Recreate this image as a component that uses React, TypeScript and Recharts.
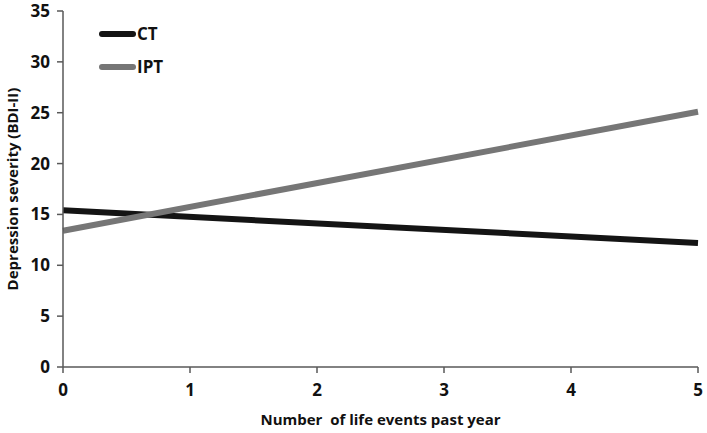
import { LineChart, Line, XAxis, YAxis, Label } from 'recharts';

const EVENTS = [0, 5];
const CT = [15.4, 12.2];
const IPT = [13.4, 25.1];
const Y_TICKS = [0, 5, 10, 15, 20, 25, 30, 35];
const X_TICKS = [0, 1, 2, 3, 4, 5];

const data = EVENTS.map((x, i) => ({ x, ct: CT[i], ipt: IPT[i] }));

const FONT = '"Open Sans", "Liberation Sans", sans-serif';
const AXIS = '#595959';

const series = [
  { name: 'CT', color: '#141414' },
  { name: 'IPT', color: '#767676' },
];

function LegendBox() {
  return (
    <div
      style={{
        position: 'absolute',
        left: 99,
        top: 17,
        fontFamily: FONT,
        fontWeight: 700,
        fontSize: 17,
        color: '#111',
      }}
    >
      {series.map(s => (
        <div key={s.name} style={{ display: 'flex', alignItems: 'center', height: 33 }}>
          <span style={{ width: 37, height: 6, background: s.color, borderRadius: 3 }} />
          <span style={{ marginLeft: 1 }}>{s.name}</span>
        </div>
      ))}
    </div>
  );
}

export default function App() {
  return (
    <div style={{ position: 'absolute', left: 0, top: 0, width: 707, height: 433, background: '#fff' }}>
      <LineChart width={707} height={433} data={data} margin={{ top: 11, right: 9, left: 13, bottom: 0 }}>
        <XAxis
          dataKey="x"
          type="number"
          domain={[0, 5]}
          ticks={X_TICKS}
          stroke={AXIS}
          strokeWidth={1.5}
          tickSize={6}
          height={66}
          tick={{ fill: '#111', fontSize: 17, fontWeight: 700, fontFamily: FONT, dy: 9 }}
        >
          <Label
            value={'Number\u00a0 of life events past year'}
            position="insideBottom"
            offset={8}
            style={{ fill: '#111', fontSize: 15, fontWeight: 700, fontFamily: FONT }}
          />
        </XAxis>
        <YAxis
          type="number"
          domain={[0, 35]}
          ticks={Y_TICKS}
          stroke={AXIS}
          strokeWidth={1.5}
          tickSize={6}
          width={50}
          tick={{ fill: '#111', fontSize: 17, fontWeight: 700, fontFamily: FONT, dx: -5 }}
        >
          <Label
            value="Depression severity (BDI-II)"
            angle={-90}
            position="insideLeft"
            offset={0}
            style={{ textAnchor: 'middle', fill: '#111', fontSize: 15, fontWeight: 700, fontFamily: FONT }}
          />
        </YAxis>
        <Line dataKey="ct" name="CT" stroke={series[0].color} strokeWidth={6} dot={false} isAnimationActive={false} />
        <Line dataKey="ipt" name="IPT" stroke={series[1].color} strokeWidth={6} dot={false} isAnimationActive={false} />
      </LineChart>
      <LegendBox />
    </div>
  );
}
